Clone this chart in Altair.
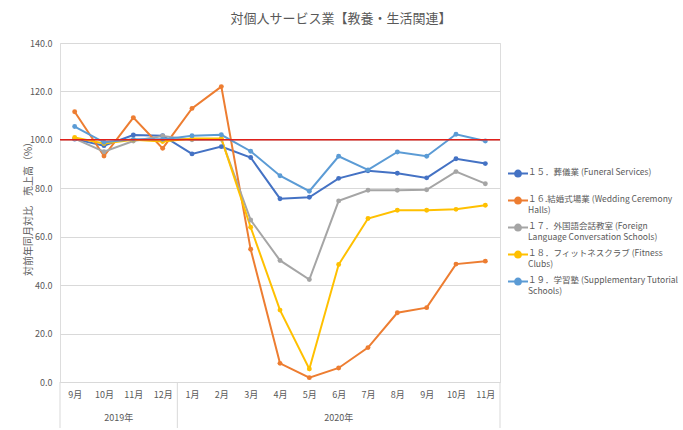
import altair as alt
import pandas as pd

# ---- data ----
months = ["9月", "10月", "11月", "12月", "1月", "2月", "3月", "4月", "5月",
          "6月", "7月", "8月", "9月", "10月", "11月"]
years = ["2019年"] * 4 + ["2020年"] * 11

series_names = [
    "１５．葬儀業 (Funeral Services)\n ",
    "１６.結婚式場業 (Wedding Ceremony\nHalls)",
    "１７．外国語会話教室 (Foreign\nLanguage Conversation Schools)",
    "１８．フィットネスクラブ (Fitness\nClubs)",
    "１９．学習塾 (Supplementary Tutorial\nSchools)",
]
funeral = [100.3, 97.6, 102.0, 101.7, 94.2, 97.2, 92.7, 75.7, 76.3, 84.1, 87.2, 86.2, 84.3, 92.2, 90.2]
wedding = [111.6, 93.3, 109.2, 96.5, 113.0, 122.0, 54.8, 7.7, 1.8, 5.8, 14.2, 28.6, 30.7, 48.7, 49.9]
language = [100.5, 95.1, 99.5, 101.6, 100.0, 100.2, 66.9, 50.2, 42.3, 74.8, 79.2, 79.2, 79.4, 86.9, 81.9]
fitness = [101.0, 98.5, 100.0, 99.3, 100.6, 100.6, 63.9, 29.7, 5.4, 48.5, 67.5, 70.9, 70.9, 71.3, 73.0]
tutorial = [105.5, 99.0, 100.2, 100.2, 101.7, 102.1, 95.3, 85.2, 78.8, 93.2, 87.6, 95.0, 93.2, 102.3, 99.5]
colors = ["#4472C4", "#ED7D31", "#A5A5A5", "#FFC000", "#5B9BD5"]
baseline_value = [100.0]

title_text = "対個人サービス業【教養・生活関連】"
y_title = "対前年同月対比　売上高（%）"

# ---- tables ----
rows = []
for name, vals in zip(series_names, [funeral, wedding, language, fitness, tutorial]):
    for i, (m, v) in enumerate(zip(months, vals)):
        rows.append({"idx": i, "month": m, "series": name, "value": v})
df = pd.DataFrame(rows)

year_rows = []
bounds = [-0.5]
for y in dict.fromkeys(years):
    ids = [i for i, yy in enumerate(years) if yy == y]
    year_rows.append({"year": y, "center": sum(ids) / len(ids)})
    bounds.append(ids[-1] + 0.5)
year_df = pd.DataFrame(year_rows)
bound_df = pd.DataFrame({"pos": bounds})
base_df = pd.DataFrame({"v": baseline_value})

W, H = 440, 339
FONT = "Noto Sans CJK JP"
TXT = "#595959"
GRID = "#d9d9d9"

label_expr = "[" + ",".join("'%s'" % m for m in months) + "][datum.value]"

x_scale = alt.Scale(domain=[-0.5, len(months) - 0.5], nice=False, zero=False)
y_scale = alt.Scale(domain=[0, 140], nice=False)

x_axis = alt.Axis(values=list(range(len(months))), labelExpr=label_expr,
                  title=None, ticks=False, grid=False, domainColor=GRID,
                  labelOverlap=False, labelFlush=False,
                  labelPadding=8, labelFontSize=9, labelColor=TXT, labelFont=FONT)
y_axis = alt.Axis(values=list(range(0, 141, 20)), format=".1f", title=y_title,
                  ticks=False, domain=False, gridColor=GRID, labelFontSize=9,
                  labelColor=TXT, labelFont=FONT, labelPadding=8,
                  titleFont=FONT, titleFontSize=10, titleColor=TXT,
                  titleFontWeight="normal", titleX=-32, titleY=163,
                  titleBaseline="middle")

# line with a dot, shifted so that it sits on the first label line
legend_symbol = ("M-1,1.1L3,1.1M0.42,1.1A0.58,0.58,0,1,0,1.58,1.1"
                 "A0.58,0.58,0,1,0,0.42,1.1Z")

lines = alt.Chart(df).mark_line(
    strokeWidth=2,
    point=alt.OverlayMarkDef(size=24, filled=True),
).encode(
    x=alt.X("idx:Q", scale=x_scale, axis=x_axis),
    y=alt.Y("value:Q", scale=y_scale, axis=y_axis),
    color=alt.Color("series:N",
                    scale=alt.Scale(domain=series_names, range=colors),
                    legend=alt.Legend(title=None, orient="none", legendX=447, legendY=119,
                                      labelExpr="split(datum.label, '\\n')",
                                      labelFont=FONT, labelFontSize=8.5, labelColor=TXT,
                                      labelLimit=300, symbolType=legend_symbol,
                                      symbolStrokeWidth=2, symbolSize=100,
                                      rowPadding=2, labelBaseline="top", labelOffset=9)),
)

red = alt.Chart(base_df).mark_rule(color="#E0201B", strokeWidth=1.5).encode(
    y=alt.Y("v:Q", scale=y_scale, axis=y_axis)
)

seps = alt.Chart(bound_df).mark_rule(color=GRID, strokeWidth=1).encode(
    x=alt.X("pos:Q", scale=x_scale, axis=x_axis), y=alt.value(H), y2=alt.value(H + 46)
)

year_text = alt.Chart(year_df).mark_text(
    font=FONT, fontSize=9, color=TXT, baseline="middle"
).encode(
    x=alt.X("center:Q", scale=x_scale, axis=x_axis), y=alt.value(H + 36), text="year:N"
)

chart = alt.layer(lines, red, seps, year_text).properties(
    width=W, height=H,
    title=alt.TitleParams(title_text, font=FONT, fontSize=13, fontWeight="normal",
                          color=TXT, anchor="middle", dx=61, offset=13),
    autosize=alt.AutoSizeParams(type="none"),
    padding={"left": 60, "top": 43, "right": 183, "bottom": 48},
).configure_view(stroke=None).configure(background="white")

chart.save("out.html", embed_options={"renderer": "svg", "actions": False})
